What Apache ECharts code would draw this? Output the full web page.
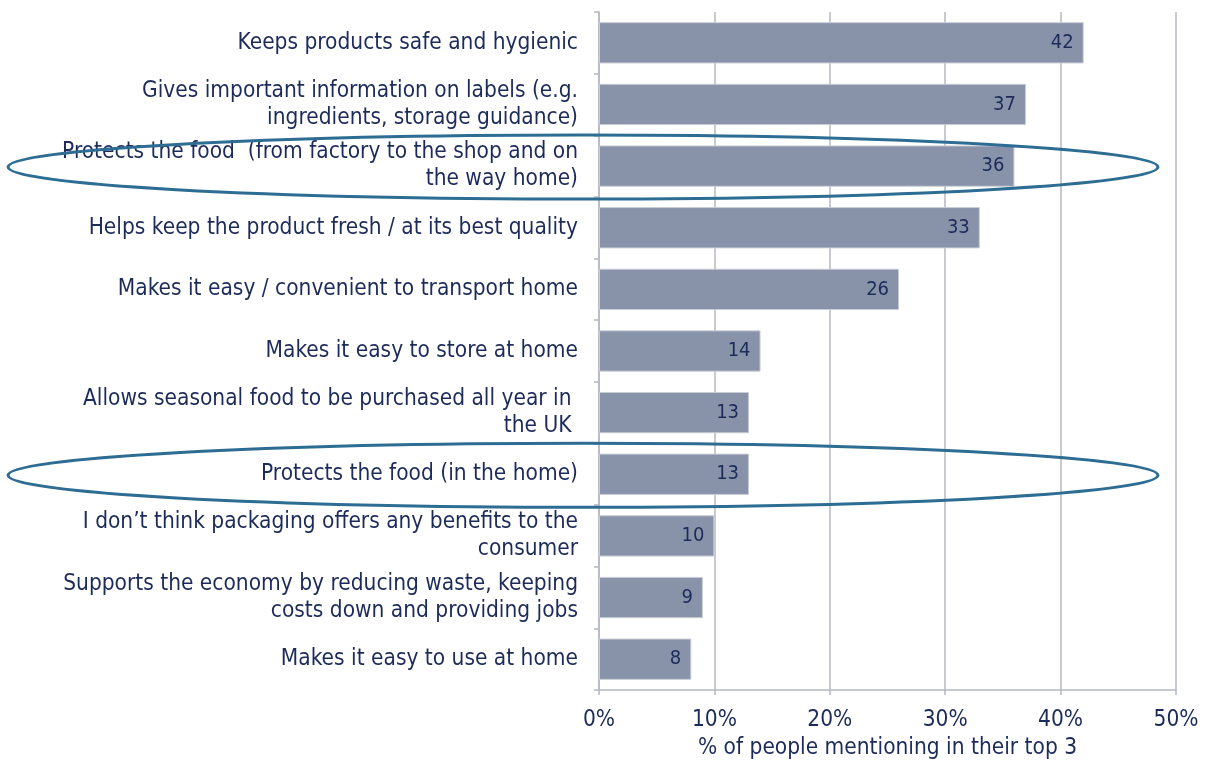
<!DOCTYPE html>
<html>
<head>
<meta charset="utf-8">
<script src="https://cdn.jsdelivr.net/npm/echarts@6/dist/echarts.min.js"></script>
<style>
  html, body { margin: 0; padding: 0; background: #ffffff; }
  #chart { width: 1208px; height: 763px; }
</style>
</head>
<body>
<div id="chart"></div>
<script>
// Benefits of packaging, ranked by share of mentions
const categories = [
  'Keeps products safe and hygienic',
  'Gives important information on labels (e.g.\ningredients, storage guidance)',
  'Protects the food  (from factory to the shop and on\nthe way home)',
  'Helps keep the product fresh / at its best quality',
  'Makes it easy / convenient to transport home',
  'Makes it easy to store at home',
  'Allows seasonal food to be purchased all year in \nthe UK ',
  'Protects the food (in the home)',
  'I don\u2019t think packaging offers any benefits to the\nconsumer',
  'Supports the economy by reducing waste, keeping\ncosts down and providing jobs',
  'Makes it easy to use at home'
];
const values = [42, 37, 36, 33, 26, 14, 13, 13, 10, 9, 8];
const xTicks = [0, 10, 20, 30, 40, 50];
// rows circled to highlight food protection
const highlighted = [2, 7];

const FONT = '"DejaVu Sans Condensed", "DejaVu Sans", sans-serif';
const TEXT = '#1c2b5a';

const chart = echarts.init(document.getElementById('chart'));

const option = {
  animation: false,
  backgroundColor: '#ffffff',
  grid: {
    left: 599, right: 32, top: 12, bottom: 73,
    containLabel: false, outerBoundsMode: 'none'
  },
  xAxis: {
    type: 'value',
    min: xTicks[0],
    max: xTicks[xTicks.length - 1],
    interval: 10,
    name: '% of people mentioning in their top 3',
    nameLocation: 'middle',
    nameGap: 46,
    nameTextStyle: { color: TEXT, fontFamily: FONT, fontSize: 22.5 },
    axisLine: { show: true, lineStyle: { color: '#b4b8c2', width: 1.5 } },
    axisTick: { show: true, length: 5, lineStyle: { color: '#b4b8c2', width: 1.5 } },
    axisLabel: { color: TEXT, fontFamily: FONT, fontSize: 22.5, margin: 19, formatter: '{value}%' },
    splitLine: { show: true, lineStyle: { color: '#b4b8c2', width: 1.5 } }
  },
  yAxis: {
    type: 'category',
    inverse: true,
    data: categories,
    axisLine: { show: true, lineStyle: { color: '#b4b8c2', width: 1.5 } },
    axisTick: { show: true, length: 5, inside: false, alignWithLabel: false, lineStyle: { color: '#b4b8c2', width: 1.5 } },
    axisLabel: {
      color: TEXT, fontFamily: FONT, fontSize: 22.5, lineHeight: 27,
      margin: 21, align: 'right'
    },
    splitLine: { show: false }
  },
  series: [{
    type: 'bar',
    data: values,
    barWidth: '67%',
    itemStyle: { color: '#8892a8', borderColor: '#c9cdd6', borderWidth: 1 },
    label: {
      show: true,
      position: 'insideRight',
      distance: 10,
      color: TEXT,
      fontFamily: FONT,
      fontSize: 20
    }
  }]
};

chart.setOption(option);

// outline the highlighted rows with wide ellipses
const ellipses = highlighted.map(function (idx) {
  const cy = chart.convertToPixel({ yAxisIndex: 0 }, idx);
  return {
    type: 'ellipse',
    shape: { cx: 583, cy: cy + 1, rx: 575, ry: 32 },
    style: { fill: 'none', stroke: '#2e6d93', lineWidth: 3 },
    z: 100,
    silent: true
  };
});
chart.setOption({ graphic: ellipses });
</script>
</body>
</html>
